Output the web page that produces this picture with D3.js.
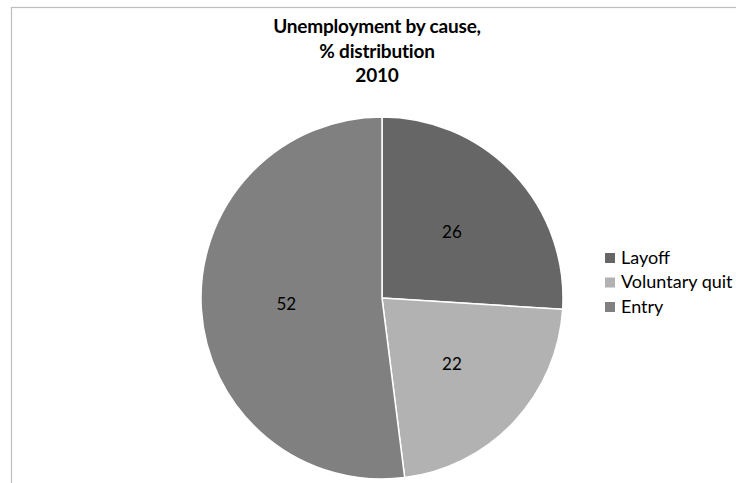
<!DOCTYPE html>
<html>
<head>
<meta charset="utf-8">
<script src="https://cdn.jsdelivr.net/npm/d3@7"></script>
<style>
  html, body { margin: 0; padding: 0; background: #fff; }
  svg { display: block; }
</style>
</head>
<body>
<svg id="chart" width="736" height="483"></svg>
<script>
// Unemployment by cause, % distribution, 2010
const categories = ["Layoff", "Voluntary quit", "Entry"];
const shares = [26, 22, 52];
const colors = ["#666666", "#b2b2b2", "#808080"];
const titleLines = ["Unemployment by cause,", "% distribution", "2010"];

const svg = d3.select("#chart");
const font = "Lato, 'Open Sans', 'DejaVu Sans', sans-serif";

// chart frame
svg.append("rect")
  .attr("x", 11.5).attr("y", 7.5)
  .attr("width", 740).attr("height", 490)
  .attr("fill", "#fff")
  .attr("stroke", "#bdbdbd")
  .attr("stroke-width", 1.2);

// title
svg.append("g")
  .selectAll("text")
  .data(titleLines)
  .join("text")
  .attr("x", 377)
  .attr("y", (d, i) => 33 + i * 24.5)
  .attr("text-anchor", "middle")
  .attr("font-family", font)
  .attr("font-weight", "bold")
  .attr("font-size", 19)
  .attr("letter-spacing", "-0.2")
  .attr("fill", "#000")
  .text(d => d);

// pie
const cx = 382, cy = 298, r = 181;
const pie = d3.pie().sort(null).value(d => d.v);
const data = pie(categories.map((c, i) => ({ c, v: shares[i], color: colors[i] })));
const arc = d3.arc().innerRadius(0).outerRadius(r);
const labelArc = d3.arc().innerRadius(r * 0.53).outerRadius(r * 0.53);

const g = svg.append("g").attr("transform", `translate(${cx},${cy})`);
g.selectAll("path")
  .data(data)
  .join("path")
  .attr("d", arc)
  .attr("fill", d => d.data.color)
  .attr("stroke", "#fff")
  .attr("stroke-width", 1.5);

g.selectAll("text")
  .data(data)
  .join("text")
  .attr("transform", d => `translate(${labelArc.centroid(d)})`)
  .attr("text-anchor", "middle")
  .attr("dy", "0.35em")
  .attr("font-family", font)
  .attr("font-size", 17)
  .attr("fill", "#000")
  .text(d => d.data.v);

// legend
const legend = svg.append("g").attr("transform", "translate(605,258)");
const item = legend.selectAll("g")
  .data(categories)
  .join("g")
  .attr("transform", (d, i) => `translate(0,${i * 24.5})`);
item.append("rect")
  .attr("x", 0).attr("y", -5)
  .attr("width", 10).attr("height", 10)
  .attr("fill", (d, i) => colors[i]);
item.append("text")
  .attr("x", 16)
  .attr("y", 5.5)
  .attr("font-family", font)
  .attr("font-size", 18)
  .attr("fill", "#000")
  .text(d => d);
</script>
</body>
</html>
